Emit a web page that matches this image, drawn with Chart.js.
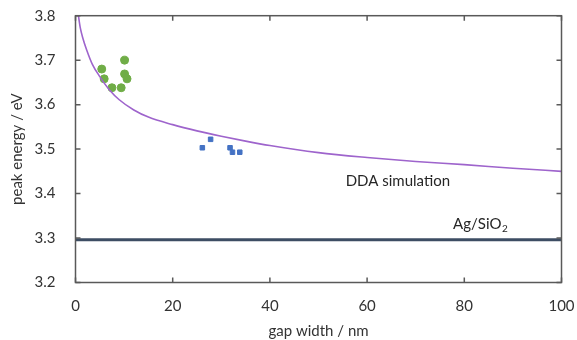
<!DOCTYPE html>
<html>
<head>
<meta charset="utf-8">
<script src="https://cdn.jsdelivr.net/npm/chart.js@4"></script>
<style>
  html, body { margin: 0; padding: 0; background: #fff; }
  #wrap { width: 577px; height: 340px; }
</style>
</head>
<body>
<div id="wrap"><canvas id="c"></canvas></div>
<script>
// medidas (gap en nm, energía de pico en eV)
const gapVerde = [5.4, 5.9, 7.5, 9.4, 10.1, 10.1, 10.6];
const energiaVerde = [3.680, 3.658, 3.638, 3.638, 3.700, 3.669, 3.658];

const gapAzul = [26.1, 27.8, 31.8, 32.3, 33.8];
const energiaAzul = [3.503, 3.522, 3.503, 3.493, 3.493];

// curva DDA
const gapDDA = [0.6, 1, 1.5, 2.3, 3.5, 5, 7, 9, 12, 15, 20, 25, 30, 35, 40, 50, 60, 70, 80, 90, 100];
const energiaDDA = [3.800, 3.772, 3.750, 3.723, 3.690, 3.663, 3.633, 3.611, 3.588, 3.572, 3.555, 3.541, 3.529, 3.518, 3.508, 3.492, 3.481, 3.472, 3.465, 3.457, 3.450];

// referencia Ag/SiO2
const gapRef = [0, 100];
const energiaRef = [3.296, 3.296];

const ticksX = [0, 20, 40, 60, 80, 100];
const ticksY = [3.2, 3.3, 3.4, 3.5, 3.6, 3.7, 3.8];

const FUENTE = 'Lato, "Open Sans", sans-serif';
const pares = (xs, ys) => xs.map((x, i) => ({ x, y: ys[i] }));

// marco con marcas hacia dentro + textos dentro del área
const marco = {
  id: 'marco',
  afterDatasetsDraw(chart) {
    const { ctx, chartArea: a, scales: { x, y } } = chart;
    ctx.save();
    ctx.strokeStyle = '#595959';
    ctx.lineWidth = 1.5;
    ctx.strokeRect(a.left, a.top, a.right - a.left, a.bottom - a.top);
    ctx.beginPath();
    ticksY.forEach(v => {
      const py = y.getPixelForValue(v);
      ctx.moveTo(a.left, py); ctx.lineTo(a.left + 5, py);
      ctx.moveTo(a.right, py); ctx.lineTo(a.right - 5, py);
    });
    ticksX.forEach(v => {
      const px = x.getPixelForValue(v);
      ctx.moveTo(px, a.bottom); ctx.lineTo(px, a.bottom - 5);
      ctx.moveTo(px, a.top); ctx.lineTo(px, a.top + 5);
    });
    ctx.stroke();

    ctx.fillStyle = '#262626';
    ctx.textBaseline = 'middle';
    ctx.font = '15px ' + FUENTE;
    ctx.fillText('DDA simulation', x.getPixelForValue(55.6), y.getPixelForValue(3.427));
    const px = x.getPixelForValue(77.7), py = y.getPixelForValue(3.332);
    ctx.fillText('Ag/SiO', px, py);
    const w = ctx.measureText('Ag/SiO').width;
    ctx.font = '10px ' + FUENTE;
    ctx.fillText('2', px + w + 0.5, py + 5);
    ctx.restore();
  }
};

new Chart(document.getElementById('c'), {
  type: 'scatter',
  data: {
    datasets: [
      { data: pares(gapRef, energiaRef), showLine: true, borderColor: '#3d4d63', borderWidth: 3, pointRadius: 0 },
      { data: pares(gapDDA, energiaDDA), showLine: true, borderColor: '#9e64cc', borderWidth: 1.6, pointRadius: 0, tension: 0.4, cubicInterpolationMode: 'monotone' },
      { data: pares(gapVerde, energiaVerde), backgroundColor: '#70ad47', borderColor: '#70ad47', pointRadius: 4, pointStyle: 'circle' },
      { data: pares(gapAzul, energiaAzul), backgroundColor: '#4472c4', borderColor: '#4472c4', pointRadius: 3.2, pointStyle: 'rect' },
    ],
  },
  options: {
    responsive: true,
    maintainAspectRatio: false,
    animation: false,
    layout: { padding: { top: 15.7, right: 15.5, left: 0, bottom: 0 } },
    plugins: { legend: { display: false }, tooltip: { enabled: false } },
    scales: {
      x: {
        type: 'linear', min: 0, max: 100,
        afterBuildTicks: s => { s.ticks = ticksX.map(v => ({ value: v })); },
        grid: { display: false, drawTicks: false },
        border: { display: false },
        ticks: { color: '#333333', font: { family: FUENTE, size: 15 }, padding: 15, maxRotation: 0 },
        title: { display: true, text: 'gap width / nm', color: '#333333', font: { family: FUENTE, size: 15 }, padding: { top: 1, bottom: 0 } },
        afterFit: s => { s.height = 57.5; s.paddingLeft = 0; s.paddingRight = 0; },
      },
      y: {
        type: 'linear', min: 3.2, max: 3.8,
        afterBuildTicks: s => { s.ticks = ticksY.map(v => ({ value: v })); },
        grid: { display: false, drawTicks: false },
        border: { display: false },
        ticks: { color: '#333333', font: { family: FUENTE, size: 15 }, padding: 20, callback: v => v.toFixed(1) },
        title: { display: true, text: 'peak energy / eV', color: '#333333', font: { family: FUENTE, size: 15 }, padding: { top: 8, bottom: 2 } },
        afterFit: s => { s.width = 75.5; s.paddingTop = 0; s.paddingBottom = 0; },
      },
    },
  },
  plugins: [marco],
});
</script>
</body>
</html>
